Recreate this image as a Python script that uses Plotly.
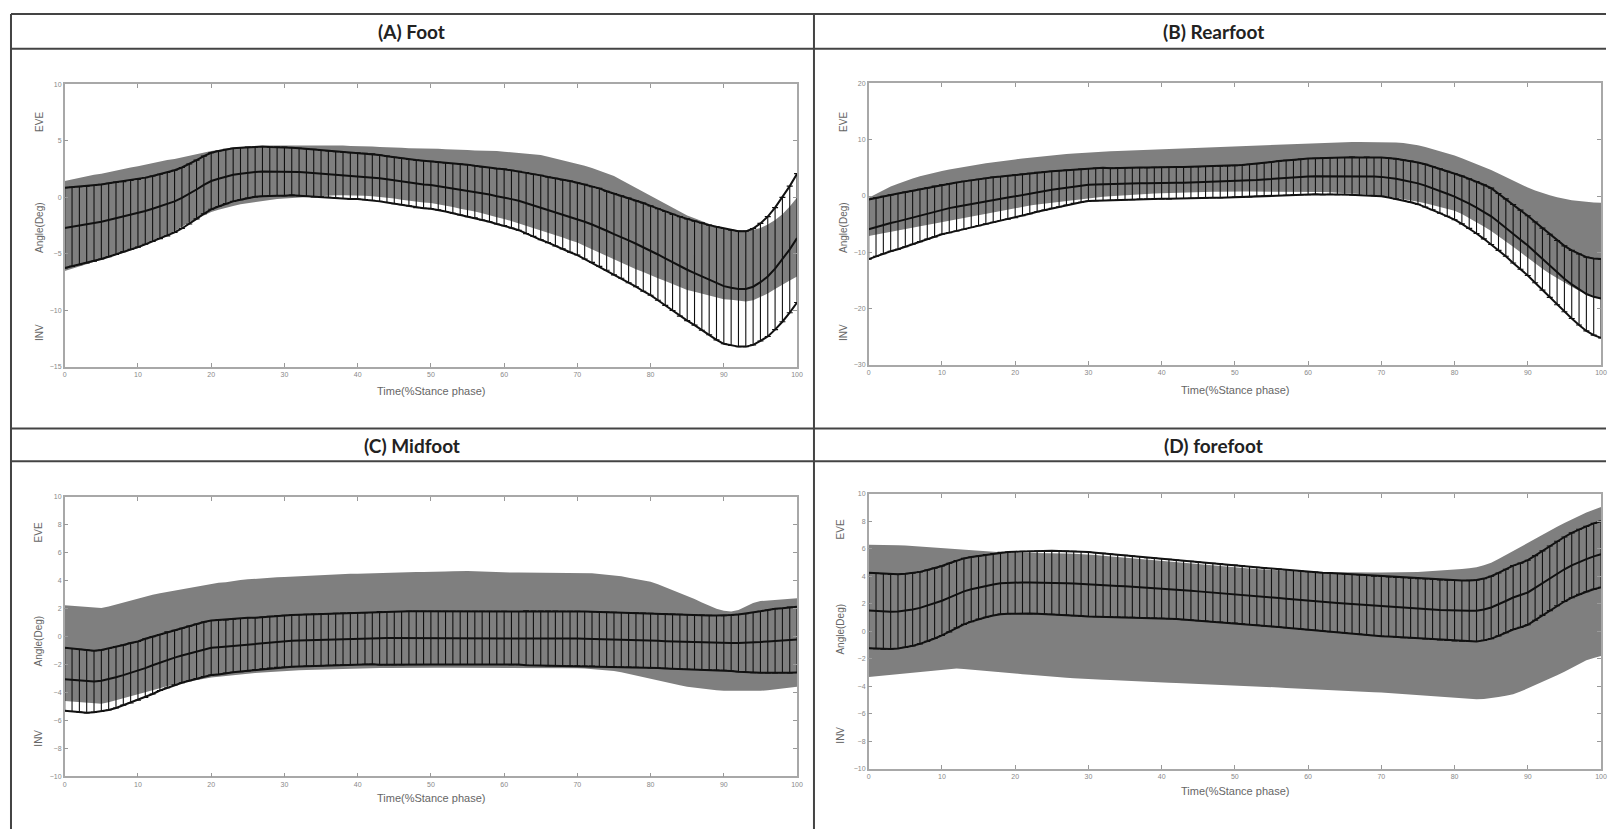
import plotly.graph_objects as go

pct = list(range(101))
x_ticks = [0, 10, 20, 30, 40, 50, 60, 70, 80, 90, 100]

# ---------------- (A) Foot ----------------
foot_mean = [-2.7, -2.6, -2.5, -2.4, -2.3, -2.15, -2.0, -1.85, -1.7, -1.55,
             -1.4, -1.2, -1.0, -0.8, -0.6, -0.35, -0.05, 0.3, 0.7, 1.1,
             1.45, 1.65, 1.85, 2.0, 2.1, 2.2, 2.25, 2.3, 2.3, 2.3,
             2.3, 2.3, 2.25, 2.2, 2.15, 2.1, 2.05, 2.0, 1.95, 1.9,
             1.9, 1.85, 1.8, 1.7, 1.6, 1.5, 1.4, 1.3, 1.2, 1.15,
             1.1, 1.0, 0.9, 0.8, 0.7, 0.6, 0.5, 0.35, 0.25, 0.1,
             0.0, -0.15, -0.3, -0.5, -0.7, -0.9, -1.1, -1.3, -1.5, -1.7,
             -1.9, -2.15, -2.4, -2.65, -2.95, -3.25, -3.5, -3.8, -4.1, -4.4,
             -4.7, -5.05, -5.4, -5.75, -6.1, -6.4, -6.7, -7.0, -7.3, -7.6,
             -7.85, -8.0, -8.1, -8.1, -7.9, -7.5, -7.0, -6.3, -5.5, -4.6,
             -3.6]
foot_sd = [3.55, 3.5, 3.45, 3.4, 3.35, 3.3, 3.25, 3.2, 3.1, 3.05,
           3.0, 2.95, 2.9, 2.85, 2.8, 2.75, 2.7, 2.65, 2.6, 2.55,
           2.5, 2.45, 2.4, 2.35, 2.3, 2.25, 2.2, 2.2, 2.15, 2.15,
           2.15, 2.1, 2.1, 2.1, 2.1, 2.05, 2.05, 2.05, 2.05, 2.05,
           2.05, 2.05, 2.05, 2.05, 2.05, 2.05, 2.05, 2.05, 2.1, 2.1,
           2.1, 2.1, 2.15, 2.2, 2.25, 2.3, 2.3, 2.35, 2.4, 2.45,
           2.5, 2.55, 2.6, 2.7, 2.75, 2.85, 2.9, 3.0, 3.05, 3.15,
           3.2, 3.3, 3.35, 3.45, 3.5, 3.6, 3.65, 3.75, 3.8, 3.9,
           3.95, 4.05, 4.15, 4.25, 4.4, 4.5, 4.6, 4.75, 4.85, 5.0,
           5.1, 5.1, 5.1, 5.1, 5.15, 5.2, 5.3, 5.4, 5.5, 5.6,
           5.7]
foot_norm_hi = [1.45, 1.6, 1.75, 1.85, 2.0, 2.1, 2.25, 2.4, 2.5, 2.65,
                2.75, 2.9, 3.0, 3.15, 3.3, 3.4, 3.55, 3.7, 3.85, 3.95,
                4.1, 4.2, 4.3, 4.4, 4.45, 4.5, 4.55, 4.55, 4.6, 4.6,
                4.6, 4.6, 4.65, 4.65, 4.65, 4.65, 4.65, 4.6, 4.6, 4.55,
                4.55, 4.5, 4.5, 4.45, 4.45, 4.4, 4.4, 4.35, 4.35, 4.3,
                4.3, 4.3, 4.25, 4.25, 4.2, 4.2, 4.15, 4.15, 4.1, 4.1,
                4.05, 4.0, 3.95, 3.9, 3.85, 3.75, 3.6, 3.45, 3.3, 3.15,
                3.0, 2.8, 2.6, 2.35, 2.15, 1.9, 1.55, 1.2, 0.85, 0.5,
                0.15, -0.2, -0.55, -0.9, -1.25, -1.6, -1.85, -2.1, -2.35, -2.6,
                -2.75, -2.85, -2.9, -2.9, -2.85, -2.7, -2.4, -2.0, -1.5, -0.8,
                0.0]
foot_norm_lo = [-6.5, -6.3, -6.1, -5.9, -5.7, -5.5, -5.3, -5.1, -4.9, -4.7,
                -4.5, -4.2, -3.9, -3.6, -3.3, -3.0, -2.6, -2.2, -1.9, -1.6,
                -1.3, -1.1, -0.9, -0.75, -0.6, -0.5, -0.4, -0.3, -0.2, -0.15,
                -0.1, -0.05, 0.0, 0.05, 0.1, 0.15, 0.2, 0.2, 0.2, 0.2,
                0.2, 0.15, 0.1, 0.05, 0.0, -0.1, -0.2, -0.3, -0.35, -0.45,
                -0.5, -0.6, -0.7, -0.85, -1.0, -1.1, -1.25, -1.4, -1.6, -1.75,
                -1.9, -2.1, -2.3, -2.5, -2.7, -2.9, -3.1, -3.3, -3.55, -3.8,
                -4.0, -4.3, -4.6, -4.9, -5.2, -5.5, -5.8, -6.05, -6.35, -6.6,
                -6.9, -7.15, -7.4, -7.65, -7.95, -8.2, -8.35, -8.5, -8.7, -8.85,
                -9.0, -9.05, -9.1, -9.2, -9.1, -8.8, -8.5, -8.1, -7.7, -7.35,
                -7.0]
foot_yticks = [-15, -10, -5, 0, 5, 10]

# ---------------- (B) Rearfoot ----------------
rear_mean = [-5.9, -5.5, -5.15, -4.8, -4.5, -4.15, -3.8, -3.45, -3.1, -2.75,
             -2.4, -2.15, -1.9, -1.65, -1.4, -1.15, -0.9, -0.65, -0.45, -0.25,
             -0.05, 0.2, 0.45, 0.7, 0.9, 1.1, 1.3, 1.5, 1.7, 1.85,
             2.0, 2.05, 2.1, 2.1, 2.15, 2.2, 2.2, 2.25, 2.25, 2.3,
             2.3, 2.3, 2.35, 2.35, 2.4, 2.4, 2.45, 2.5, 2.5, 2.55,
             2.6, 2.65, 2.75, 2.85, 2.95, 3.05, 3.15, 3.25, 3.3, 3.4,
             3.45, 3.5, 3.5, 3.55, 3.55, 3.55, 3.55, 3.5, 3.5, 3.45,
             3.4, 3.25, 3.05, 2.8, 2.55, 2.25, 1.85, 1.4, 0.9, 0.4,
             -0.1, -0.7, -1.35, -2.05, -2.8, -3.6, -4.6, -5.6, -6.7, -7.75,
             -8.8, -10.0, -11.2, -12.4, -13.6, -14.7, -15.7, -16.6, -17.4, -17.9,
             -18.2]
rear_sd = [5.3, 5.2, 5.1, 5.0, 4.95, 4.85, 4.75, 4.65, 4.55, 4.5,
           4.4, 4.35, 4.3, 4.25, 4.2, 4.1, 4.05, 4.0, 3.9, 3.85,
           3.8, 3.7, 3.6, 3.5, 3.4, 3.3, 3.2, 3.1, 3.0, 2.95,
           2.9, 2.9, 2.9, 2.85, 2.85, 2.85, 2.85, 2.8, 2.8, 2.8,
           2.8, 2.8, 2.8, 2.8, 2.8, 2.8, 2.8, 2.8, 2.8, 2.8,
           2.8, 2.85, 2.9, 2.9, 2.95, 3.0, 3.05, 3.1, 3.1, 3.15,
           3.2, 3.2, 3.25, 3.25, 3.3, 3.3, 3.35, 3.35, 3.4, 3.4,
           3.45, 3.5, 3.55, 3.6, 3.65, 3.7, 3.8, 3.85, 3.95, 4.0,
           4.1, 4.25, 4.4, 4.6, 4.8, 5.0, 5.05, 5.1, 5.2, 5.25,
           5.3, 5.4, 5.5, 5.6, 5.7, 5.85, 6.05, 6.3, 6.55, 6.8,
           7.0]
rear_norm_hi = [-0.3, 0.4, 1.1, 1.7, 2.2, 2.7, 3.1, 3.5, 3.85, 4.15,
                4.45, 4.7, 4.95, 5.2, 5.4, 5.6, 5.8, 6.0, 6.2, 6.35,
                6.5, 6.65, 6.8, 6.95, 7.1, 7.2, 7.3, 7.45, 7.55, 7.65,
                7.75, 7.8, 7.9, 7.95, 8.0, 8.05, 8.15, 8.2, 8.25, 8.3,
                8.35, 8.4, 8.45, 8.5, 8.5, 8.55, 8.6, 8.65, 8.7, 8.75,
                8.8, 8.85, 8.9, 9.0, 9.1, 9.15, 9.2, 9.25, 9.3, 9.35,
                9.4, 9.45, 9.5, 9.5, 9.55, 9.6, 9.6, 9.6, 9.6, 9.6,
                9.6, 9.55, 9.5, 9.4, 9.25, 9.0, 8.7, 8.35, 8.0, 7.6,
                7.2, 6.7, 6.2, 5.7, 5.15, 4.6, 4.0, 3.35, 2.7, 2.1,
                1.5, 1.0, 0.55, 0.15, -0.2, -0.5, -0.75, -0.9, -1.05, -1.15,
                -1.2]
rear_norm_lo = [-7.1, -6.85, -6.6, -6.35, -6.1, -5.85, -5.6, -5.4, -5.15, -4.9,
                -4.7, -4.4, -4.15, -3.9, -3.6, -3.35, -3.1, -2.85, -2.6, -2.35,
                -2.1, -1.9, -1.7, -1.5, -1.35, -1.15, -1.0, -0.8, -0.65, -0.5,
                -0.35, -0.25, -0.15, -0.05, 0.05, 0.15, 0.25, 0.3, 0.4, 0.45,
                0.5, 0.55, 0.6, 0.6, 0.65, 0.7, 0.7, 0.75, 0.75, 0.8,
                0.8, 0.8, 0.8, 0.8, 0.8, 0.8, 0.8, 0.8, 0.8, 0.8,
                0.8, 0.75, 0.7, 0.65, 0.6, 0.5, 0.45, 0.35, 0.25, 0.15,
                0.05, -0.15, -0.35, -0.55, -0.75, -1.0, -1.3, -1.6, -1.95, -2.3,
                -2.6, -3.2, -3.9, -4.6, -5.4, -6.2, -7.1, -8.0, -9.0, -10.0,
                -11.0, -12.0, -12.9, -13.8, -14.6, -15.4, -16.1, -16.8, -17.4, -17.9,
                -18.2]
rear_yticks = [-30, -20, -10, 0, 10, 20]

# ---------------- (C) Midfoot ----------------
mid_mean = [-3.05, -3.1, -3.15, -3.2, -3.2, -3.15, -3.05, -2.9, -2.75, -2.6,
            -2.45, -2.25, -2.05, -1.85, -1.65, -1.5, -1.35, -1.2, -1.05, -0.9,
            -0.8, -0.75, -0.7, -0.65, -0.6, -0.55, -0.5, -0.45, -0.4, -0.35,
            -0.33, -0.3, -0.28, -0.26, -0.24, -0.22, -0.2, -0.18, -0.16, -0.15,
            -0.14, -0.13, -0.12, -0.11, -0.1, -0.1, -0.1, -0.09, -0.09, -0.09,
            -0.09, -0.09, -0.09, -0.09, -0.09, -0.09, -0.09, -0.09, -0.09, -0.09,
            -0.09, -0.1, -0.1, -0.1, -0.11, -0.11, -0.12, -0.12, -0.13, -0.13,
            -0.14, -0.15, -0.16, -0.18, -0.19, -0.2, -0.22, -0.23, -0.25, -0.26,
            -0.28, -0.3, -0.32, -0.34, -0.36, -0.38, -0.4, -0.41, -0.43, -0.44,
            -0.45, -0.46, -0.46, -0.45, -0.42, -0.38, -0.34, -0.3, -0.27, -0.24,
            -0.21]
mid_sd = [2.25, 2.25, 2.25, 2.25, 2.2, 2.2, 2.2, 2.2, 2.15, 2.15,
          2.1, 2.1, 2.05, 2.0, 2.0, 1.95, 1.95, 1.95, 1.95, 1.95,
          1.95, 1.95, 1.9, 1.9, 1.9, 1.9, 1.85, 1.85, 1.85, 1.85,
          1.85, 1.85, 1.85, 1.85, 1.85, 1.85, 1.85, 1.85, 1.85, 1.85,
          1.85, 1.85, 1.85, 1.9, 1.9, 1.9, 1.9, 1.9, 1.9, 1.9,
          1.9, 1.9, 1.9, 1.9, 1.9, 1.9, 1.9, 1.9, 1.9, 1.9,
          1.9, 1.9, 1.9, 1.95, 1.95, 1.95, 1.95, 1.95, 1.95, 1.95,
          1.95, 1.95, 1.95, 1.95, 1.95, 1.95, 1.95, 1.95, 1.95, 1.95,
          1.95, 1.95, 1.95, 1.95, 1.95, 1.95, 1.95, 1.95, 1.95, 1.95,
          1.95, 2.0, 2.05, 2.1, 2.15, 2.2, 2.25, 2.3, 2.3, 2.35,
          2.35]
mid_norm_hi = [2.25, 2.2, 2.15, 2.1, 2.05, 2.05, 2.15, 2.3, 2.45, 2.6,
               2.75, 2.85, 3.0, 3.1, 3.2, 3.3, 3.4, 3.5, 3.6, 3.7,
               3.8, 3.85, 3.9, 4.0, 4.05, 4.1, 4.15, 4.2, 4.2, 4.25,
               4.27, 4.3, 4.32, 4.35, 4.37, 4.4, 4.42, 4.45, 4.47, 4.5,
               4.5, 4.52, 4.54, 4.55, 4.57, 4.58, 4.6, 4.6, 4.62, 4.62,
               4.62, 4.64, 4.66, 4.68, 4.7, 4.7, 4.68, 4.65, 4.62, 4.6,
               4.58, 4.58, 4.58, 4.58, 4.58, 4.58, 4.58, 4.58, 4.58, 4.58,
               4.58, 4.56, 4.53, 4.48, 4.44, 4.39, 4.32, 4.22, 4.12, 4.02,
               3.92, 3.75, 3.55, 3.35, 3.15, 2.95, 2.7, 2.45, 2.2, 2.0,
               1.85, 1.8, 1.9, 2.15, 2.4, 2.55, 2.6, 2.65, 2.7, 2.7,
               2.75]
mid_norm_lo = [-4.6, -4.65, -4.7, -4.75, -4.8, -4.8, -4.7, -4.55, -4.4, -4.25,
               -4.1, -3.95, -3.8, -3.65, -3.5, -3.4, -3.3, -3.2, -3.1, -3.0,
               -2.92, -2.86, -2.8, -2.74, -2.69, -2.64, -2.6, -2.56, -2.52, -2.48,
               -2.45, -2.43, -2.41, -2.39, -2.37, -2.35, -2.33, -2.31, -2.29, -2.27,
               -2.26, -2.25, -2.25, -2.24, -2.24, -2.23, -2.23, -2.22, -2.22, -2.22,
               -2.22, -2.22, -2.22, -2.22, -2.22, -2.22, -2.22, -2.22, -2.22, -2.22,
               -2.22, -2.22, -2.22, -2.23, -2.23, -2.24, -2.24, -2.25, -2.25, -2.26,
               -2.26, -2.28, -2.31, -2.36, -2.4, -2.45, -2.55, -2.67, -2.8, -2.92,
               -3.04, -3.15, -3.26, -3.37, -3.48, -3.58, -3.65, -3.72, -3.78, -3.83,
               -3.87, -3.88, -3.89, -3.89, -3.88, -3.87, -3.83, -3.77, -3.7, -3.64,
               -3.58]
mid_yticks = [-10, -8, -6, -4, -2, 0, 2, 4, 6, 8, 10]

# ---------------- (D) forefoot ----------------
fore_mean = [1.5, 1.47, 1.44, 1.42, 1.44, 1.5, 1.58, 1.7, 1.86, 2.03,
             2.22, 2.45, 2.7, 2.9, 3.05, 3.18, 3.3, 3.4, 3.49, 3.52,
             3.54, 3.55, 3.55, 3.55, 3.55, 3.54, 3.52, 3.5, 3.47, 3.45,
             3.42, 3.39, 3.36, 3.33, 3.3, 3.27, 3.24, 3.21, 3.17, 3.14,
             3.11, 3.07, 3.03, 2.99, 2.95, 2.9, 2.86, 2.82, 2.78, 2.74,
             2.7, 2.65, 2.6, 2.55, 2.5, 2.46, 2.41, 2.36, 2.31, 2.27,
             2.22, 2.18, 2.14, 2.1, 2.06, 2.02, 1.98, 1.94, 1.9, 1.85,
             1.81, 1.78, 1.75, 1.71, 1.68, 1.65, 1.62, 1.58, 1.55, 1.52,
             1.49, 1.48, 1.48, 1.49, 1.58, 1.73, 1.95, 2.2, 2.45, 2.62,
             2.82, 3.15, 3.5, 3.85, 4.2, 4.51, 4.8, 5.05, 5.25, 5.45,
             5.6]
fore_sd = [2.75, 2.75, 2.75, 2.72, 2.7, 2.68, 2.65, 2.62, 2.6, 2.56,
           2.53, 2.5, 2.45, 2.4, 2.35, 2.3, 2.28, 2.26, 2.25, 2.25,
           2.25, 2.26, 2.27, 2.28, 2.3, 2.31, 2.32, 2.33, 2.34, 2.35,
           2.35, 2.33, 2.31, 2.29, 2.27, 2.25, 2.23, 2.21, 2.19, 2.18,
           2.17, 2.16, 2.15, 2.15, 2.14, 2.13, 2.13, 2.12, 2.12, 2.11,
           2.11, 2.11, 2.11, 2.11, 2.11, 2.11, 2.11, 2.11, 2.11, 2.11,
           2.11, 2.12, 2.12, 2.13, 2.14, 2.14, 2.15, 2.15, 2.16, 2.16,
           2.17, 2.17, 2.17, 2.18, 2.18, 2.18, 2.19, 2.19, 2.19, 2.2,
           2.2, 2.21, 2.22, 2.24, 2.25, 2.27, 2.29, 2.31, 2.33, 2.34,
           2.35, 2.35, 2.35, 2.35, 2.35, 2.35, 2.36, 2.37, 2.38, 2.4,
           2.41]
fore_norm_hi = [6.3, 6.3, 6.28, 6.27, 6.25, 6.24, 6.2, 6.17, 6.13, 6.1,
                6.07, 6.02, 5.98, 5.93, 5.88, 5.83, 5.8, 5.77, 5.74, 5.72,
                5.71, 5.71, 5.71, 5.71, 5.71, 5.71, 5.69, 5.66, 5.64, 5.62,
                5.59, 5.54, 5.5, 5.45, 5.4, 5.35, 5.3, 5.25, 5.2, 5.16,
                5.11, 5.06, 5.01, 4.97, 4.92, 4.87, 4.82, 4.77, 4.72, 4.68,
                4.63, 4.6, 4.56, 4.53, 4.49, 4.46, 4.43, 4.4, 4.37, 4.34,
                4.31, 4.3, 4.29, 4.28, 4.28, 4.27, 4.27, 4.27, 4.27, 4.27,
                4.27, 4.27, 4.28, 4.29, 4.3, 4.31, 4.34, 4.37, 4.4, 4.43,
                4.46, 4.52, 4.58, 4.65, 4.8, 4.99, 5.25, 5.55, 5.85, 6.15,
                6.43, 6.72, 7.0, 7.3, 7.6, 7.88, 8.15, 8.4, 8.65, 8.85,
                9.04]
fore_norm_lo = [-3.33, -3.28, -3.23, -3.18, -3.13, -3.08, -3.03, -2.98, -2.93, -2.88,
                -2.84, -2.78, -2.72, -2.76, -2.8, -2.84, -2.89, -2.94, -2.99, -3.04,
                -3.08, -3.13, -3.18, -3.23, -3.28, -3.33, -3.36, -3.39, -3.42, -3.46,
                -3.49, -3.51, -3.54, -3.56, -3.59, -3.61, -3.63, -3.66, -3.68, -3.71,
                -3.73, -3.75, -3.77, -3.79, -3.81, -3.83, -3.85, -3.87, -3.89, -3.91,
                -3.93, -3.96, -3.99, -4.02, -4.05, -4.08, -4.1, -4.13, -4.16, -4.19,
                -4.22, -4.24, -4.27, -4.29, -4.32, -4.34, -4.36, -4.39, -4.41, -4.44,
                -4.46, -4.5, -4.54, -4.57, -4.61, -4.65, -4.7, -4.75, -4.8, -4.85,
                -4.89, -4.92, -4.94, -4.96, -4.94, -4.89, -4.8, -4.7, -4.6, -4.4,
                -4.17, -3.93, -3.68, -3.44, -3.2, -2.96, -2.7, -2.43, -2.12, -1.95,
                -1.81]
fore_yticks = [-10, -8, -6, -4, -2, 0, 2, 4, 6, 8, 10]

# page geometry: the browser body adds an 8 px margin around the figure
PAGE_W, PAGE_H = 1620, 840
OFF = 8
W, H = PAGE_W - 2 * OFF, PAGE_H - 2 * OFF


def fx(x):
    return (x - OFF) / W


def fy(y):
    return 1 - (y - OFF) / H


panels = [
    dict(title="(A) Foot", mean=foot_mean, sd=foot_sd, hi=foot_norm_hi, lo=foot_norm_lo,
         yt=foot_yticks, box=(63, 799, 81, 366), head=(412, 28), lab_x=37,
         lab_y=(119, 225, 331), xt_y=390),
    dict(title="(B) Rearfoot", mean=rear_mean, sd=rear_sd, hi=rear_norm_hi, lo=rear_norm_lo,
         yt=rear_yticks, box=(871, 1607, 80, 364), head=(1218, 28), lab_x=845,
         lab_y=(119, 225, 331), xt_y=389),
    dict(title="(C) Midfoot", mean=mid_mean, sd=mid_sd, hi=mid_norm_hi, lo=mid_norm_lo,
         yt=mid_yticks, box=(63, 799, 497, 779), head=(412, 445), lab_x=37,
         lab_y=(533, 642, 740), xt_y=801),
    dict(title="(D) forefoot", mean=fore_mean, sd=fore_sd, hi=fore_norm_hi, lo=fore_norm_lo,
         yt=fore_yticks, box=(871, 1607, 494, 771), head=(1218, 445), lab_x=843,
         lab_y=(530, 630, 737), xt_y=794),
]

fig = go.Figure()
annotations = []
layout_axes = {}
GRAY = "#7f7f7f"
INK = "#111111"

for i, p in enumerate(panels):
    xa = "x" if i == 0 else f"x{i+1}"
    ya = "y" if i == 0 else f"y{i+1}"
    upper = [m + s for m, s in zip(p["mean"], p["sd"])]
    lower = [m - s for m, s in zip(p["mean"], p["sd"])]

    fig.add_trace(go.Scatter(x=pct, y=p["lo"], mode="lines", line=dict(width=0, color=GRAY),
                             hoverinfo="skip", showlegend=False, xaxis=xa, yaxis=ya))
    fig.add_trace(go.Scatter(x=pct, y=p["hi"], mode="lines", line=dict(width=0, color=GRAY),
                             fill="tonexty", fillcolor=GRAY, hoverinfo="skip",
                             showlegend=False, xaxis=xa, yaxis=ya))
    fig.add_trace(go.Scatter(x=pct, y=p["mean"], mode="lines",
                             line=dict(width=2, color=INK),
                             error_y=dict(type="data", array=p["sd"], visible=True,
                                          color=INK, thickness=1.1, width=3),
                             showlegend=False, xaxis=xa, yaxis=ya))
    for arr in (upper, lower):
        fig.add_trace(go.Scatter(x=pct, y=arr, mode="lines", line=dict(width=2, color=INK),
                                 hoverinfo="skip", showlegend=False, xaxis=xa, yaxis=ya))

    x0, x1, y0, y1 = p["box"]
    key_x = "xaxis" if i == 0 else f"xaxis{i+1}"
    key_y = "yaxis" if i == 0 else f"yaxis{i+1}"
    layout_axes[key_x] = dict(domain=[fx(x0), fx(x1)], anchor=ya, range=[0, 100],
                              tickvals=x_ticks, ticks="inside", ticklen=4, tickcolor="#999",
                              showline=True, linecolor="#a8a8a8", linewidth=1.5, mirror="ticks",
                              showgrid=False, zeroline=False,
                              tickfont=dict(size=7, color="#888", family="Liberation Sans"))
    layout_axes[key_y] = dict(domain=[fy(y1), fy(y0)], anchor=xa,
                              range=[p["yt"][0], p["yt"][-1]], tickvals=p["yt"],
                              ticks="inside", ticklen=4, tickcolor="#999",
                              showline=True, linecolor="#a8a8a8", linewidth=1.5, mirror="ticks",
                              showgrid=False, zeroline=False,
                              tickfont=dict(size=7, color="#888", family="Liberation Sans"))

    hx, hy = p["head"]
    annotations.append(dict(text=p["title"], x=fx(hx), y=fy(hy), xref="paper", yref="paper",
                            showarrow=False, xanchor="center", yanchor="middle",
                            font=dict(family="Lato", size=19, color="#222", weight="bold")))
    for t, ly in zip(("EVE", "Angle(Deg)", "INV"), p["lab_y"]):
        annotations.append(dict(text=t, x=fx(p["lab_x"]), y=fy(ly), xref="paper", yref="paper",
                                showarrow=False, textangle=-90, xanchor="center",
                                yanchor="middle",
                                font=dict(family="Liberation Sans", size=10, color="#666")))
    annotations.append(dict(text="Time(%Stance phase)", x=fx((x0 + x1) / 2), y=fy(p["xt_y"]),
                            xref="paper", yref="paper", showarrow=False, xanchor="center",
                            yanchor="middle",
                            font=dict(family="Liberation Sans", size=11, color="#666")))

# table frame lines
LINE = dict(color="#444", width=2)
shapes = []
for yv in (10, 45, 428, 461):
    shapes.append(dict(type="line", xref="paper", yref="paper", x0=fx(9), x1=1,
                       y0=fy(yv), y1=fy(yv), line=LINE))
for xv in (9, 816):
    shapes.append(dict(type="line", xref="paper", yref="paper", x0=fx(xv), x1=fx(xv),
                       y0=fy(10), y1=0, line=LINE))

fig.update_layout(width=W, height=H, margin=dict(l=0, r=0, t=0, b=0),
                  paper_bgcolor="white", plot_bgcolor="white",
                  annotations=annotations, shapes=shapes, **layout_axes)

fig.write_html("out.html")
